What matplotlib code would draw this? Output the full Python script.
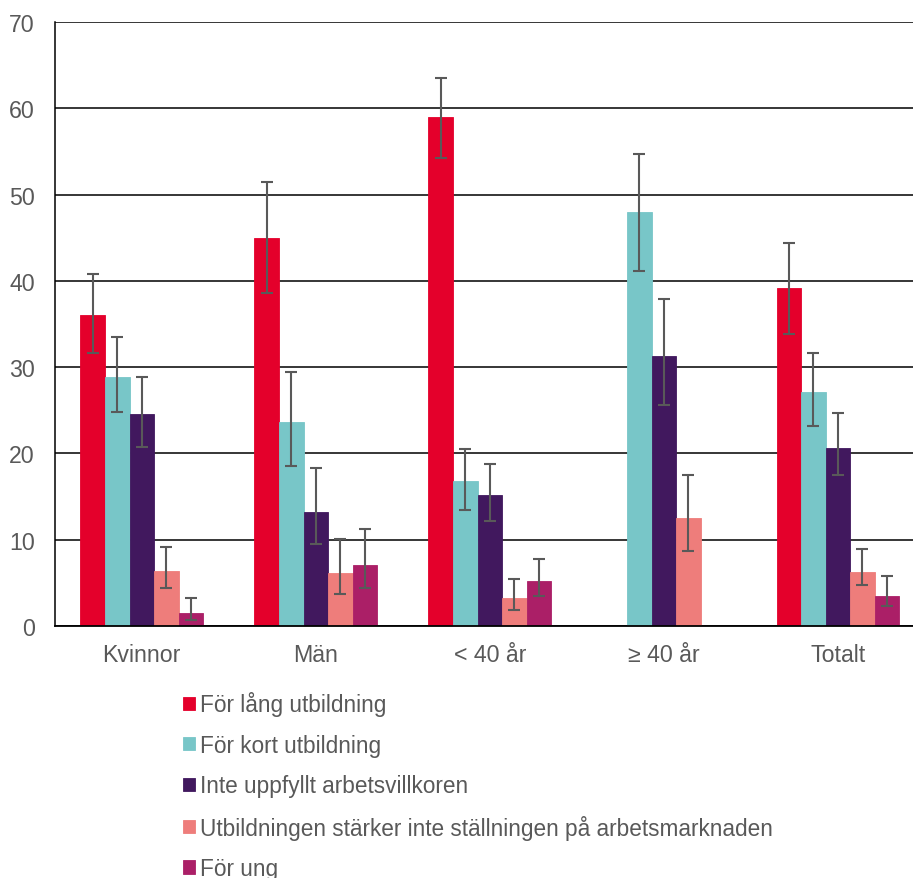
import matplotlib.pyplot as plt
import numpy as np

plt.rcParams['font.family'] = ['Liberation Sans', 'DejaVu Sans']

grupper = ['Kvinnor', 'Män', '< 40 år', '≥ 40 år', 'Totalt']
serier = ['För lång utbildning', 'För kort utbildning', 'Inte uppfyllt arbetsvillkoren',
          'Utbildningen stärker inte ställningen på arbetsmarknaden', 'För ung']
farger = ['#E4002B', '#78C6C8', '#41185E', '#EE7D7B', '#AB1F67']

# andel (%) per grupp
lang_utb = [36.0, 45.0, 59.0, 0.0, 39.2]
kort_utb = [28.9, 23.6, 16.8, 48.0, 27.1]
arbetsvillkor = [24.6, 13.2, 15.2, 31.3, 20.6]
stallning = [6.35, 6.2, 3.3, 12.5, 6.3]
for_ung = [1.5, 7.1, 5.2, 0.0, 3.5]

# konfidensintervall, nedre och övre gräns
lang_lo = [31.7, 38.6, 54.3, np.nan, 33.8]
lang_hi = [40.8, 51.5, 63.5, np.nan, 44.4]
kort_lo = [24.8, 18.5, 13.5, 41.2, 23.2]
kort_hi = [33.5, 29.5, 20.5, 54.7, 31.7]
arb_lo = [20.7, 9.5, 12.2, 25.6, 17.5]
arb_hi = [28.9, 18.3, 18.8, 37.9, 24.7]
stall_lo = [4.4, 3.7, 1.9, 8.7, 4.7]
stall_hi = [9.2, 10.1, 5.4, 17.5, 8.9]
ung_lo = [0.7, 4.4, 3.5, np.nan, 2.3]
ung_hi = [3.3, 11.2, 7.8, np.nan, 5.8]

varden = [lang_utb, kort_utb, arbetsvillkor, stallning, for_ung]
nedre = [lang_lo, kort_lo, arb_lo, stall_lo, ung_lo]
ovre = [lang_hi, kort_hi, arb_hi, stall_hi, ung_hi]

fig = plt.figure(figsize=(9.13, 8.79), dpi=100)
# högerkanten går lite utanför bilden, som i originalet
ax = fig.add_axes([0.060, 0.2867, 0.953, 0.687])

x = np.arange(len(grupper))
w = 0.141
for i in range(len(serier)):
    v = np.array(varden[i])
    lo = np.array(nedre[i])
    hi = np.array(ovre[i])
    pos = x + (i - 2) * w
    ax.bar(pos, v, w, color=farger[i], edgecolor=farger[i], linewidth=0.6,
           label=serier[i], zorder=2)
    ok = ~np.isnan(lo)
    ax.errorbar(pos[ok], v[ok], yerr=[v[ok] - lo[ok], hi[ok] - v[ok]], fmt='none',
                ecolor='#595959', elinewidth=1.5, capsize=4, capthick=1.5, zorder=3)

ax.set_ylim(0, 70)
ax.set_xlim(-0.5, 4.5)
ax.set_yticks(range(0, 71, 10))
ax.yaxis.grid(True, color='black', linewidth=1.1, zorder=0)
ax.set_axisbelow(True)
for s in ['top', 'right']:
    ax.spines[s].set_visible(False)
ax.spines['left'].set_linewidth(1.1)
ax.spines['bottom'].set_linewidth(1.3)
ax.set_xticks(x)
ax.set_xticklabels(grupper)
ax.tick_params(axis='both', length=0, labelsize=16.7, labelcolor='#595959')
ax.tick_params(axis='y', pad=14.4)
ax.tick_params(axis='x', pad=12.5)

fig.legend(loc='upper left', bbox_to_anchor=(0.178, 0.2355), frameon=False,
           fontsize=16.3, labelcolor='#595959', handlelength=0.53, handleheight=0.53,
           handletextpad=0.22, labelspacing=0.77)

plt.savefig('out.png', dpi=100)
